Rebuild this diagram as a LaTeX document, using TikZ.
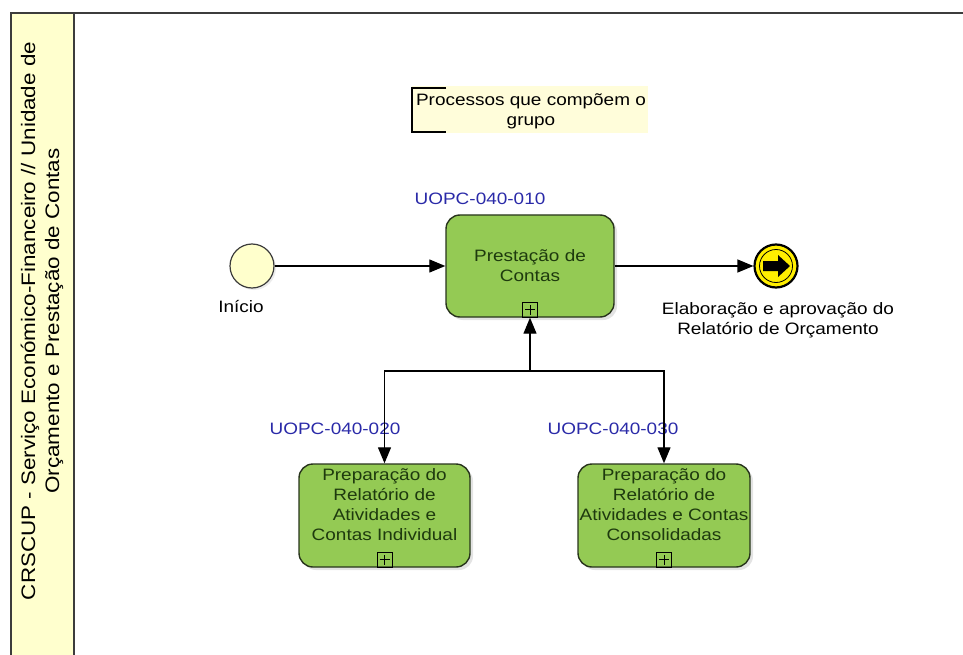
\documentclass[tikz,border=0pt]{standalone}
\usepackage{fontspec}
\setmainfont{Liberation Sans}[FakeStretch=1.15]
\usetikzlibrary{arrows.meta,shadows}

\definecolor{laneyellow}{RGB}{255,255,206}
\definecolor{notefill}{RGB}{255,253,218}
\definecolor{startfill}{RGB}{255,255,204}
\definecolor{taskgreen}{RGB}{148,202,84}
\definecolor{taskline}{RGB}{40,52,28}
\definecolor{tasktext}{RGB}{30,58,14}
\definecolor{codeblue}{RGB}{42,42,168}
\definecolor{endyellow}{RGB}{255,238,0}
\definecolor{frame}{RGB}{60,60,60}

\tikzset{
  txt/.style={font=\fontsize{16.5bp}{20bp}\selectfont, align=center, inner sep=0pt},
  task/.style={draw=taskline, line width=1.4bp, fill=taskgreen, rounded corners=14bp,
    drop shadow={shadow xshift=3bp, shadow yshift=-3bp, opacity=0.22}},
  tasklabel/.style={txt, text=tasktext},
  code/.style={txt, text=codeblue},
  plusbox/.style={draw=black, line width=1bp, minimum size=15bp, inner sep=0pt, anchor=south},
  plusmark/.style={draw=black, line width=1bp},
  flow/.style={draw=black, line width=1.3bp, -{Triangle[length=16bp, width=13bp]}},
  laneline/.style={draw=frame, line width=2bp}
}

\begin{document}
\begin{tikzpicture}[x=1bp, y=-1bp]
  \useasboundingbox (0,0) rectangle (963,655);

  % pool / lane frame
  \fill[laneyellow] (11,13) rectangle (74,655);
  \draw[laneline] (11,655) -- (11,13) -- (963,13);
  \draw[laneline] (74,13) -- (74,655);
  \node[txt, rotate=90, font=\fontsize{19.5bp}{24bp}\selectfont] (lane) at (42,321)
    {CRSCUP - Serviço Económico-Financeiro // Unidade de\\Orçamento e Prestação de Contas};

  % text annotation
  \fill[notefill] (412,86) rectangle (648,133);
  \draw[black, line width=1.2bp] (446,88) -- (412,88) -- (412,132) -- (446,132);
  \node[txt] (note) at (531,111) {Processos que compõem o\\grupo};

  % start event
  \node[circle, draw=frame, line width=1.2bp, fill=startfill, minimum size=44bp,
        drop shadow={shadow xshift=2bp, shadow yshift=-2bp, opacity=0.15}] (start) at (252,266) {};
  \node[txt] (startlbl) at (241,307) {Início};

  % main sub-process
  \node[task, minimum width=168bp, minimum height=102bp] (t1) at (530,266) {};
  \node[tasklabel] (t1txt) at (530,266) {Prestação de\\Contas};
  \node[plusbox] (t1plus) at (t1.south) {};
  \draw[plusmark] ([xshift=-5bp]t1plus.center) -- ([xshift=5bp]t1plus.center)
                  ([yshift=-5bp]t1plus.center) -- ([yshift=5bp]t1plus.center);
  \node[code] (c1) at (480,199) {UOPC-040-010};

  % end event
  \node[circle, draw=black, line width=2.2bp, fill=endyellow, minimum size=43bp] (end) at (776,266) {};
  \node[circle, draw=black, line width=0.8bp, minimum size=33bp] (endin) at (end.center) {};
  \fill[black] ([xshift=-13bp, yshift=-5bp]end.center) -- ++(15bp,0) -- ++(0,-6bp)
     -- ++(12bp,11bp) -- ++(-12bp,11bp) -- ++(0,-6bp) -- ++(-15bp,0) -- cycle;
  \node[txt] (endlbl) at (778,320) {Elaboração e aprovação do\\Relatório de Orçamento};

  % child sub-processes
  \node[task, minimum width=171bp, minimum height=103bp] (t2) at (384.5,515.5) {};
  \node[tasklabel] (t2txt) at (384.5,505) {Preparação do\\Relatório de\\Atividades e\\Contas Individual};
  \node[plusbox] (t2plus) at (t2.south) {};
  \draw[plusmark] ([xshift=-5bp]t2plus.center) -- ([xshift=5bp]t2plus.center)
                  ([yshift=-5bp]t2plus.center) -- ([yshift=5bp]t2plus.center);
  \node[code] (c2) at (335,429) {UOPC-040-020};

  \node[task, minimum width=172bp, minimum height=103bp] (t3) at (664,515.5) {};
  \node[tasklabel] (t3txt) at (664,505) {Preparação do\\Relatório de\\Atividades e Contas\\Consolidadas};
  \node[plusbox] (t3plus) at (t3.south) {};
  \draw[plusmark] ([xshift=-5bp]t3plus.center) -- ([xshift=5bp]t3plus.center)
                  ([yshift=-5bp]t3plus.center) -- ([yshift=5bp]t3plus.center);
  \node[code] (c3) at (613,429) {UOPC-040-030};

  % sequence flows
  \draw[flow] (start) -- (t1);
  \draw[flow] (t1) -- (end);
  \coordinate (junction) at (530,371);
  \draw[flow] (junction) -- (t1.south);
  \draw[flow] (junction) -| (t2.north);
  \draw[flow] (junction) -| (t3.north);
\end{tikzpicture}
\end{document}
